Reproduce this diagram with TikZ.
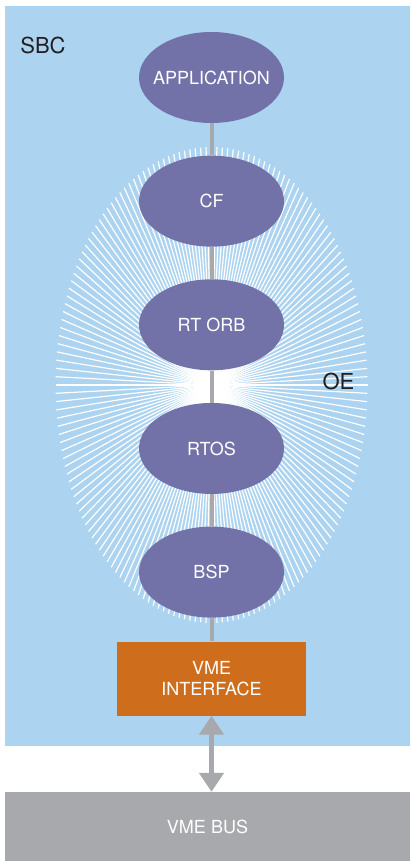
\documentclass[tikz,border=0pt]{standalone}
\usepackage{fontspec}
\setmainfont{TeX Gyre Heros}
\usetikzlibrary{shapes.geometric, positioning, graphs, arrows.meta}

\definecolor{sbcblue}{RGB}{172,211,239}
\definecolor{layerpurple}{RGB}{115,114,168}
\definecolor{ifaceorange}{RGB}{206,110,28}
\definecolor{busgray}{RGB}{167,169,172}
\definecolor{labelblack}{RGB}{35,31,32}

\newcommand{\layername}[1]{\makebox[0pt]{#1}}

\begin{document}
\begin{tikzpicture}[
                    x=1pt, y=-1pt,
                    node distance=32.25pt,
                    layer/.style={ellipse, fill=layerpurple, text=white,
                        font=\fontsize{18}{21}\selectfont,
                        minimum width=145pt, minimum height=91pt, inner sep=0pt},
                    box/.style={rectangle, text=white, align=center,
                        font=\fontsize{18}{21.7}\selectfont, inner sep=0pt},
                    spoke/.style={white, line width=1.2pt},
                    link/.style={busgray, line width=4pt},
                    busarrow/.style={busgray, line width=5pt,
                        {Triangle[width=24pt,length=19pt]}-{Triangle[width=24pt,length=19pt]}},
                    tag/.style={text=labelblack, font=\fontsize{22}{26}\selectfont},
                ]
                \useasboundingbox (0,0) rectangle (410,861);
                \fill[white] (0,0) rectangle (410,861);
                \fill[sbcblue] (5,6) rectangle (410,746);

                % OE burst
                \foreach \a in {0,2,...,358}
                    \draw[spoke] (211.5,385) -- ++(\a:156 and 238);

                \node[layer] (app) at (211.5,77.5) {\layername{APPLICATION}};
                \node[layer, below=of app] (cf) {\layername{CF}};
                \node[layer, below=of cf] (orb) {\layername{RT ORB}};
                \node[layer, below=of orb] (rtos) {\layername{RTOS}};
                \node[layer, below=of rtos] (bsp) {\layername{BSP}};
                \node[box, fill=ifaceorange, minimum width=189pt, minimum height=74pt,
                      below=23.5pt of bsp] (vme) {VME\\INTERFACE};
                \node[box, fill=busgray, minimum width=405pt, minimum height=69pt]
                      (bus) at (207.5,826.5) {VME BUS};

                \graph[use existing nodes, edges=link]{
                    app -- cf -- orb -- rtos -- bsp -- vme ;
                } ;
                \draw[busarrow] (vme.south) -- (vme.south |- bus.north);

                \node[tag] (sbc) at (43,45) {SBC};
                \node[tag] (oe) at (338.5,381.5) {OE};
            \end{tikzpicture}
\end{document}
